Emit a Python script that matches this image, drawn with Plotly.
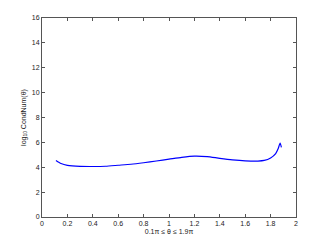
import plotly.graph_objects as go

theta_over_pi = [0.11, 0.15, 0.2, 0.3, 0.4, 0.5, 0.6, 0.7, 0.8, 0.9, 1.0, 1.1, 1.2, 1.3,
                 1.4, 1.5, 1.6, 1.7, 1.75, 1.8, 1.84, 1.86, 1.875, 1.885]
log_cond = [4.55, 4.3, 4.15, 4.07, 4.06, 4.08, 4.16, 4.24, 4.36, 4.5, 4.65, 4.8, 4.9, 4.86,
            4.72, 4.6, 4.52, 4.5, 4.55, 4.75, 5.1, 5.5, 5.95, 5.6]
x_ticks = [0, 0.2, 0.4, 0.6, 0.8, 1, 1.2, 1.4, 1.6, 1.8, 2]
x_tick_labels = ["0", "0.2", "0.4", "0.6", "0.8", "1", "1.2", "1.4", "1.6", "1.8", "2"]
y_ticks = [0, 2, 4, 6, 8, 10, 12, 14, 16]

fig = go.Figure()
fig.add_trace(go.Scatter(x=theta_over_pi, y=log_cond, mode="lines",
                         line=dict(color="#0000ff", width=1.2, shape="spline", smoothing=0.6),
                         showlegend=False))

axis_common = dict(showgrid=False, zeroline=False, showline=True, linecolor="#555555",
                   linewidth=1, mirror="ticks", ticks="inside", ticklen=3,
                   tickcolor="#555555", automargin=False,
                   tickfont=dict(size=7, color="#222222", family="Liberation Sans"))
fig.update_xaxes(range=[0, 2], tickvals=x_ticks, ticktext=x_tick_labels,
                 title=dict(text="0.1π ≤ θ ≤ 1.9π", font=dict(size=7, color="#222222",
                            family="Liberation Sans"), standoff=2),
                 **axis_common)
fig.update_yaxes(range=[0, 16], tickvals=y_ticks,
                 title=dict(text="log<sub>10</sub> CondNum(θ)", font=dict(size=7, color="#222222",
                            family="Liberation Sans"), standoff=4),
                 **axis_common)
fig.update_layout(width=327, height=245, margin=dict(l=42, r=31, t=18, b=28, autoexpand=False),
                  paper_bgcolor="white", plot_bgcolor="white",
                  font=dict(family="Liberation Sans", size=7))
fig.write_html("out.html", config={"displayModeBar": False},
               post_script="document.body.style.margin='0';document.body.style.overflow='hidden';")
